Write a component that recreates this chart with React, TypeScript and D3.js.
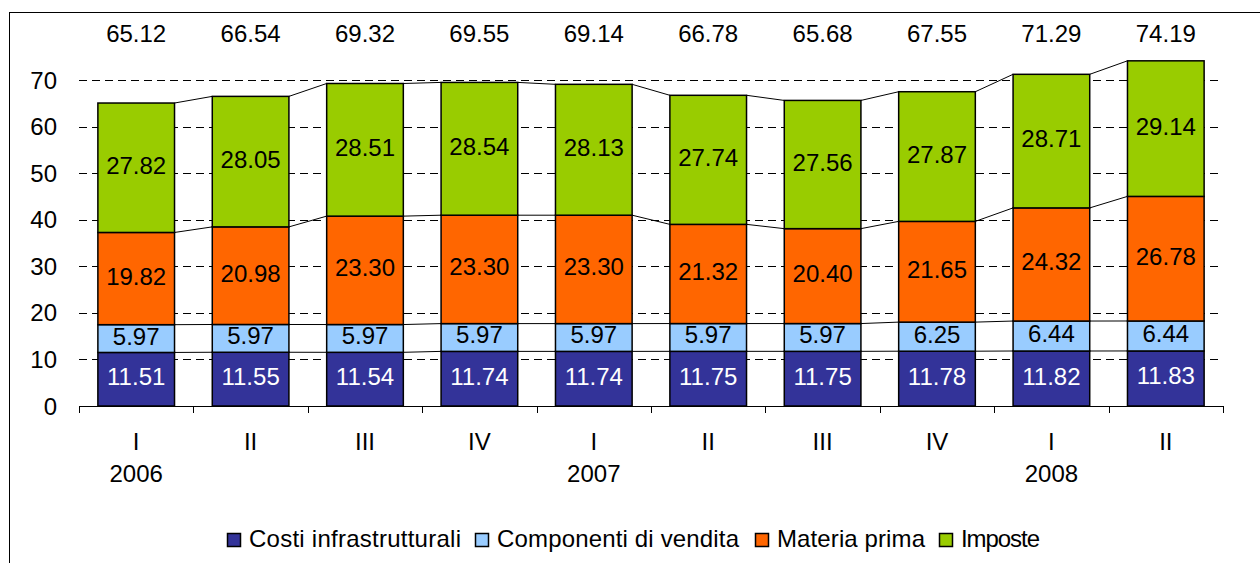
import React from "react";
import * as d3 from "d3";

const categories = ["I", "II", "III", "IV", "I", "II", "III", "IV", "I", "II"];
const years = ["2006", "", "", "", "2007", "", "", "", "2008", ""];
const seriesNames = ["Costi infrastrutturali", "Componenti di vendita", "Materia prima", "Imposte"];
const costi = [11.51, 11.55, 11.54, 11.74, 11.74, 11.75, 11.75, 11.78, 11.82, 11.83];
const componenti = [5.97, 5.97, 5.97, 5.97, 5.97, 5.97, 5.97, 6.25, 6.44, 6.44];
const materia = [19.82, 20.98, 23.3, 23.3, 23.3, 21.32, 20.4, 21.65, 24.32, 26.78];
const imposte = [27.82, 28.05, 28.51, 28.54, 28.13, 27.74, 27.56, 27.87, 28.71, 29.14];
const totals = [65.12, 66.54, 69.32, 69.55, 69.14, 66.78, 65.68, 67.55, 71.29, 74.19];
const yTicks = [0, 10, 20, 30, 40, 50, 60, 70];

const colors = ["#333399", "#99CCFF", "#FF6600", "#99CC00"];
const labelColors = ["#ffffff", "#000000", "#000000", "#000000"];
const FONT = "'Liberation Sans', Arial, sans-serif";
const FS = 24;

// legend layout (square x positions and text widths as in the reference)
const legendSquareX = [227, 475, 755, 939];
const legendTextW = [212, 242, 148, 79];

export default function App() {
  const W = 1260, H = 563;
  const x = d3.scaleBand<number>().domain(d3.range(categories.length)).range([79, 1223]).paddingInner(0.33).paddingOuter(0.165);
  const y = d3.scaleLinear().domain([0, 80]).range([406, 33.8]);
  const rows = categories.map((c, i) => ({ i, costi: costi[i], componenti: componenti[i], materia: materia[i], imposte: imposte[i] }));
  const keys = ["costi", "componenti", "materia", "imposte"];
  const stack = d3.stack<any>().keys(keys)(rows);
  const bw = x.bandwidth();
  const step = x.step();
  const boundaries = d3.range(categories.length + 1).map((k) => 79 + k * step);
  const sq = 14;

  return (
    <svg width={W} height={H} style={{ position: "absolute", left: 0, top: 0, background: "#fff" }} fontFamily={FONT}>
      <rect x={9.5} y={12.5} width={1300} height={700} fill="#fff" stroke="#000" strokeWidth={1} />
      {/* gridlines */}
      {yTicks.filter((t) => t > 0).map((t) => (
        <line key={t} x1={79} x2={1223} y1={Math.round(y(t)) + 0.5} y2={Math.round(y(t)) + 0.5} stroke="#000" strokeWidth={1} strokeDasharray="8,5" />
      ))}
      {/* y tick labels */}
      {yTicks.map((t) => (
        <text key={t} x={57} y={y(t) + 8.5} textAnchor="end" fontSize={FS}>{t}</text>
      ))}
      {/* series lines */}
      {stack.map((layer, li) => (
        <g key={"sl" + li}>
          {layer.slice(0, -1).map((d, i) => {
            const n = layer[i + 1];
            return (
              <line key={i} x1={x(i)! + bw} x2={x(i + 1)!} y1={y(d[1])} y2={y(n[1])} stroke="#000" strokeWidth={1} />
            );
          })}
        </g>
      ))}
      {/* bars */}
      {stack.map((layer, li) => (
        <g key={"l" + li}>
          {layer.map((d, i) => (
            <rect key={i} x={x(i)!} y={y(d[1])} width={bw} height={y(d[0]) - y(d[1])} fill={colors[li]} stroke="#000" strokeWidth={1.5} />
          ))}
        </g>
      ))}
      {/* segment labels */}
      {stack.map((layer, li) => (
        <g key={"t" + li}>
          {layer.map((d, i) => (
            <text key={i} x={x(i)! + bw / 2} y={y((d[0] + d[1]) / 2) + 6} textAnchor="middle" fontSize={FS} fill={labelColors[li]}>
              {(d[1] - d[0]).toFixed(2)}
            </text>
          ))}
        </g>
      ))}
      {/* totals */}
      {totals.map((t, i) => (
        <text key={i} x={x(i)! + bw / 2} y={42} textAnchor="middle" fontSize={FS}>{t.toFixed(2)}</text>
      ))}
      {/* x axis */}
      <line x1={79} x2={1223} y1={406.5} y2={406.5} stroke="#000" strokeWidth={1} />
      {boundaries.map((b, k) => (
        <line key={k} x1={Math.round(b) + 0.5} x2={Math.round(b) + 0.5} y1={406} y2={413} stroke="#000" strokeWidth={1} />
      ))}
      {categories.map((c, i) => (
        <text key={i} x={x(i)! + bw / 2} y={450} textAnchor="middle" fontSize={FS}>{c}</text>
      ))}
      {years.map((yr, i) => yr ? (
        <text key={i} x={x(i)! + bw / 2} y={482} textAnchor="middle" fontSize={FS}>{yr}</text>
      ) : null)}
      {/* legend */}
      {seriesNames.map((n, k) => (
        <g key={k}>
          <rect x={legendSquareX[k] + 0.5} y={533.5} width={sq - 1} height={sq - 1} fill={colors[k]} stroke="#000" strokeWidth={1.5} />
          <text x={legendSquareX[k] + sq + 8} y={547} fontSize={FS} textLength={legendTextW[k]} lengthAdjust="spacing">{n}</text>
        </g>
      ))}
    </svg>
  );
}
